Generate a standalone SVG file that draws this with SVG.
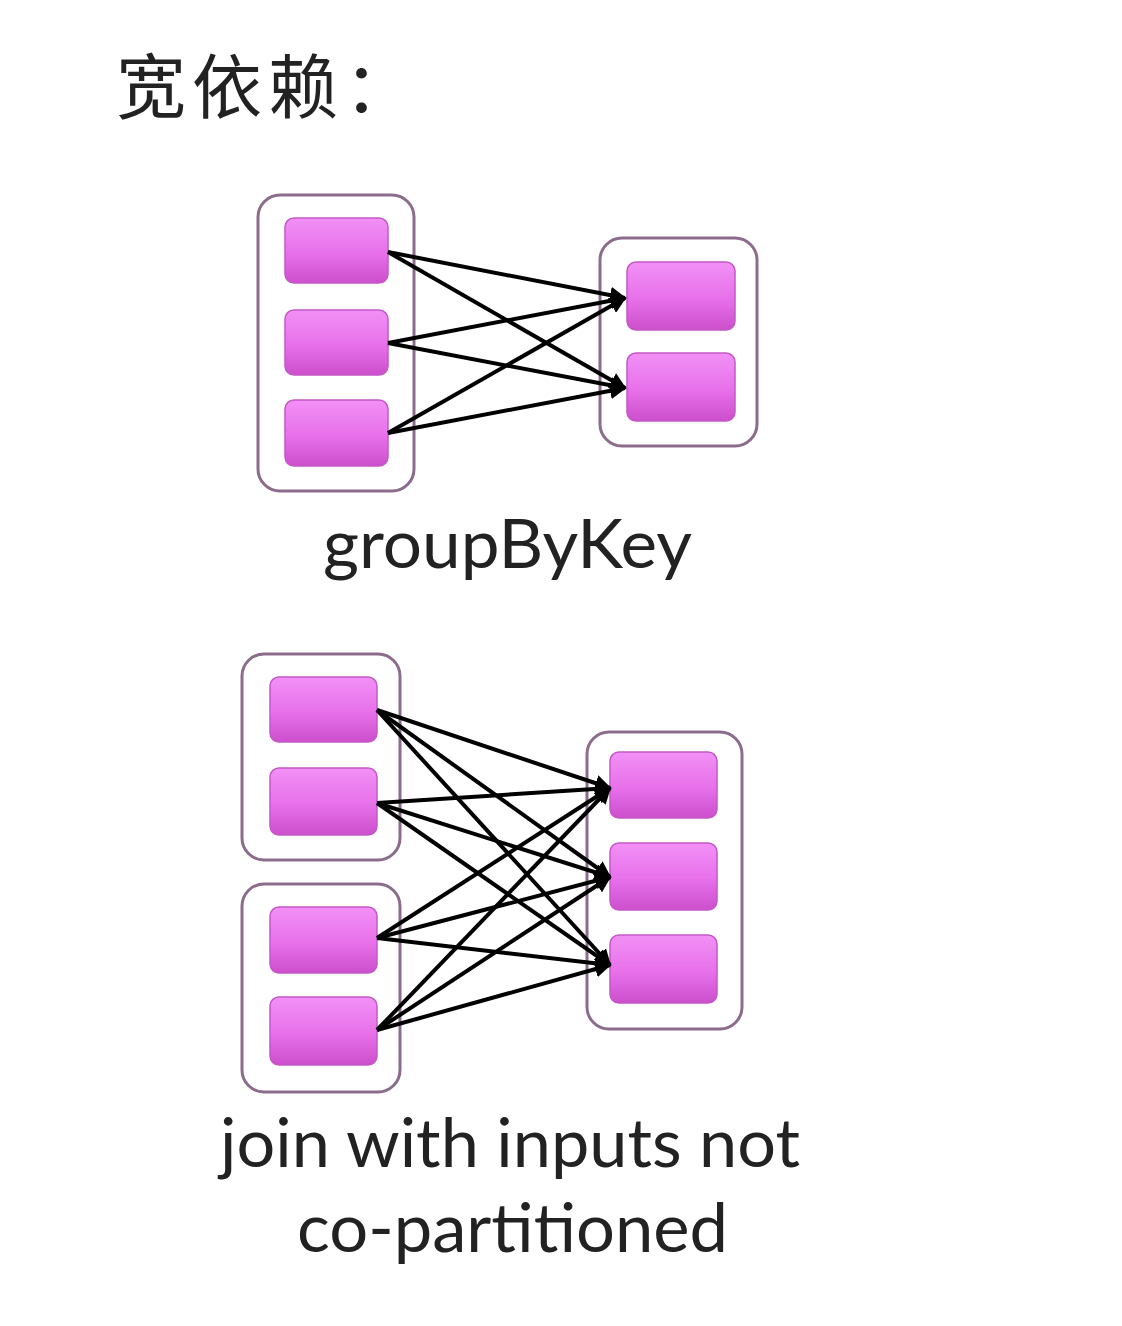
<svg xmlns="http://www.w3.org/2000/svg" width="1122" height="1326" viewBox="0 0 1122 1326">
<defs>
<linearGradient id="pg" x1="0" y1="0" x2="0" y2="1">
<stop offset="0" stop-color="#f290f6"/>
<stop offset="0.55" stop-color="#e770ea"/>
<stop offset="1" stop-color="#cc4fcc"/>
</linearGradient>
<marker id="ah" viewBox="0 0 10 10" refX="9" refY="5" markerWidth="4.2" markerHeight="4.2" orient="auto" markerUnits="strokeWidth">
<path d="M0,0 L10,5 L0,10 z" fill="#000"/>
</marker>
<style>
.cont{fill:#fff;stroke:#8c6c8c;stroke-width:3}
.part{fill:url(#pg);stroke:#c458c6;stroke-width:1.5}
.lbl{font-family:Lato,"Open Sans","Liberation Sans",sans-serif;font-size:68px;fill:#222}
.edge{stroke:#000;stroke-width:4;fill:none;marker-end:url(#ah)}
</style>
</defs>
<rect width="1122" height="1326" fill="#fff"/>
<text x="116" y="113" font-family="'Noto Sans CJK SC',sans-serif" font-size="70" letter-spacing="6" fill="#222">宽依赖：</text>

<g id="g1-left">
<rect class="cont" x="258" y="195" width="156" height="296" rx="22"/>
<rect class="part" x="285" y="218" width="103" height="65" rx="9"/>
<rect class="part" x="285" y="310" width="103" height="65" rx="9"/>
<rect class="part" x="285" y="400" width="103" height="66" rx="9"/>
</g>
<g id="g1-right">
<rect class="cont" x="600" y="238" width="157" height="208" rx="22"/>
<rect class="part" x="627" y="262" width="108" height="68" rx="9"/>
<rect class="part" x="627" y="353" width="108" height="68" rx="9"/>
</g>
<text id="label-groupByKey" class="lbl" x="323" y="568" textLength="369" lengthAdjust="spacingAndGlyphs">groupByKey</text>

<g id="g2-left-a">
<rect class="cont" x="242" y="654" width="158" height="206" rx="22"/>
<rect class="part" x="270" y="677" width="107" height="65" rx="9"/>
<rect class="part" x="270" y="768" width="107" height="67" rx="9"/>
</g>
<g id="g2-left-b">
<rect class="cont" x="242" y="884" width="158" height="208" rx="22"/>
<rect class="part" x="270" y="907" width="107" height="66" rx="9"/>
<rect class="part" x="270" y="997" width="107" height="68" rx="9"/>
</g>
<g id="g2-right">
<rect class="cont" x="587" y="732" width="155" height="297" rx="22"/>
<rect class="part" x="610" y="752" width="107" height="66" rx="9"/>
<rect class="part" x="610" y="843" width="107" height="67" rx="9"/>
<rect class="part" x="610" y="935" width="107" height="68" rx="9"/>
</g>
<text id="label-join" class="lbl"><tspan x="220" y="1167" textLength="580" lengthAdjust="spacingAndGlyphs">join with inputs not</tspan><tspan x="297" y="1252" textLength="431" lengthAdjust="spacingAndGlyphs">co-partitioned</tspan></text>

<g id="connectors">
<line class="edge" x1="388" y1="252" x2="625" y2="298"/>
<line class="edge" x1="388" y1="252" x2="625" y2="388"/>
<line class="edge" x1="388" y1="343" x2="625" y2="298"/>
<line class="edge" x1="388" y1="343" x2="625" y2="388"/>
<line class="edge" x1="388" y1="433" x2="625" y2="298"/>
<line class="edge" x1="388" y1="433" x2="625" y2="388"/>

<line class="edge" x1="377" y1="710" x2="610" y2="788"/>
<line class="edge" x1="377" y1="710" x2="610" y2="877"/>
<line class="edge" x1="377" y1="710" x2="610" y2="965"/>
<line class="edge" x1="377" y1="803" x2="610" y2="788"/>
<line class="edge" x1="377" y1="803" x2="610" y2="877"/>
<line class="edge" x1="377" y1="803" x2="610" y2="965"/>
<line class="edge" x1="377" y1="938" x2="610" y2="788"/>
<line class="edge" x1="377" y1="938" x2="610" y2="877"/>
<line class="edge" x1="377" y1="938" x2="610" y2="965"/>
<line class="edge" x1="377" y1="1030" x2="610" y2="788"/>
<line class="edge" x1="377" y1="1030" x2="610" y2="877"/>
<line class="edge" x1="377" y1="1030" x2="610" y2="965"/>
</g>
</svg>
